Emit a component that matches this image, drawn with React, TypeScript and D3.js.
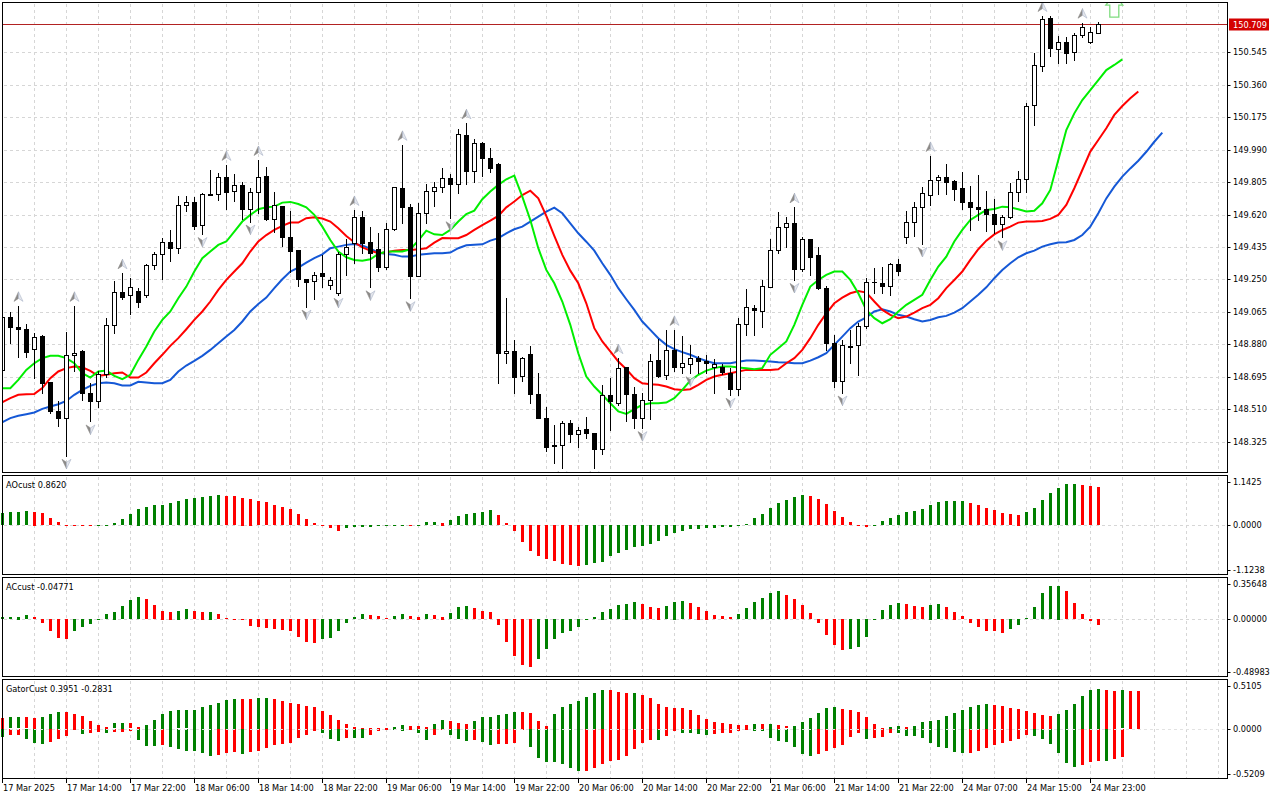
import React from "react";
import * as d3 from "d3";

// H1 candles, 17 Mar 06:00 .. 25 Mar 00:00
const opens = [148.734,149.034,148.977,148.966,148.852,148.928,148.666,148.500,148.459,148.818,
148.839,148.601,148.554,148.711,148.989,149.177,149.162,149.184,149.160,149.331,
149.393,149.462,149.428,149.673,149.692,149.559,149.733,149.735,149.832,149.752,
149.789,149.650,149.747,149.840,149.597,149.669,149.490,149.418,149.251,149.241,
149.285,149.217,149.175,149.395,149.460,149.604,149.462,149.422,149.323,149.536,
149.770,149.661,149.272,149.627,149.756,149.775,149.827,149.792,150.074,149.870,
150.026,149.941,149.908,148.829,148.842,148.700,148.823,148.595,148.459,148.307,
148.305,148.430,148.369,148.396,148.373,148.282,148.592,148.544,148.749,148.595,
148.459,148.563,148.791,148.706,148.848,148.753,148.766,148.804,148.785,148.749,
148.753,148.719,148.624,148.996,149.089,149.067,149.209,149.418,149.551,149.570,
149.308,149.479,149.390,149.200,148.886,148.671,148.871,148.877,148.985,149.238,
149.228,149.215,149.336,149.494,149.576,149.665,149.733,149.815,149.832,149.811,
149.770,149.692,149.663,149.652,149.623,149.564,149.604,149.749,149.825,150.243,
150.467,150.739,150.566,150.602,150.545,150.642,150.602,150.653];

const highs = [149.057,149.063,149.099,148.996,148.943,148.934,148.666,148.554,148.951,149.099,
148.848,148.658,148.725,149.029,149.241,149.285,149.260,149.200,149.336,149.409,
149.488,149.532,149.726,149.726,149.718,149.741,149.874,149.855,149.903,149.851,
149.808,149.770,149.931,149.893,149.747,149.669,149.642,149.418,149.251,149.295,
149.390,149.266,149.405,149.479,149.646,149.642,149.551,149.513,149.570,149.779,
150.017,149.680,149.684,149.794,149.808,149.884,149.851,150.106,150.140,150.049,
150.036,149.998,149.912,149.143,148.905,148.806,148.871,148.715,148.525,148.421,
148.440,148.449,148.411,148.468,148.373,148.649,148.687,148.801,148.749,148.639,
148.601,148.825,148.909,148.962,148.962,148.928,148.877,148.814,148.820,148.795,
148.768,148.744,149.029,149.194,149.105,149.247,149.479,149.637,149.608,149.661,
149.490,149.479,149.437,149.213,148.934,148.905,148.962,149.000,149.260,149.317,
149.323,149.342,149.365,149.642,149.694,149.775,149.954,149.846,149.906,149.817,
149.861,149.783,149.847,149.754,149.709,149.618,149.798,149.866,150.254,150.539,
150.752,150.752,150.638,150.630,150.653,150.714,150.691,150.716];

const lows = [148.725,148.886,148.806,148.806,148.685,148.601,148.487,148.415,148.244,148.730,
148.563,148.440,148.521,148.696,148.947,149.139,149.051,149.095,149.152,149.308,
149.255,149.357,149.399,149.642,149.538,149.509,149.730,149.703,149.650,149.699,
149.595,149.580,149.627,149.589,149.519,149.441,149.295,149.213,149.095,149.141,
149.209,149.194,149.162,149.276,149.342,149.399,149.205,149.300,149.308,149.532,
149.570,149.143,149.270,149.570,149.671,149.751,149.599,149.741,149.794,149.808,
149.842,149.865,148.662,148.772,148.605,148.668,148.548,148.459,148.274,148.202,
148.174,148.325,148.297,148.345,148.174,148.255,148.392,148.535,148.440,148.402,
148.402,148.453,148.692,148.683,148.725,148.719,148.715,148.719,148.719,148.601,
148.709,148.592,148.592,148.934,148.934,148.981,149.205,149.403,149.437,149.247,
149.300,149.276,149.194,148.848,148.635,148.605,148.772,148.706,148.972,149.171,
149.175,149.162,149.276,149.460,149.498,149.452,149.676,149.735,149.735,149.703,
149.652,149.532,149.589,149.528,149.513,149.490,149.599,149.699,149.749,150.132,
150.440,150.524,150.482,150.482,150.501,150.634,150.596,150.653];

const closes = [149.034,148.977,148.966,148.835,148.924,148.662,148.500,148.457,148.820,148.829,
148.601,148.554,148.711,148.989,149.177,149.152,149.207,149.124,149.333,149.393,
149.462,149.428,149.673,149.690,149.557,149.735,149.737,149.832,149.751,149.787,
149.650,149.747,149.836,149.597,149.676,149.490,149.414,149.251,149.236,149.274,
149.270,149.245,149.395,149.437,149.604,149.460,149.399,149.323,149.536,149.775,
149.661,149.272,149.627,149.756,149.775,149.827,149.792,150.077,149.870,150.026,
149.941,149.887,148.829,148.844,148.692,148.801,148.595,148.459,148.297,148.301,
148.430,148.367,148.394,148.373,148.282,148.592,148.554,148.744,148.595,148.459,
148.563,148.782,148.702,148.848,148.753,148.772,148.801,148.785,148.772,148.766,
148.721,148.624,148.996,149.091,149.076,149.213,149.418,149.551,149.570,149.308,
149.479,149.380,149.200,148.886,148.668,148.875,148.863,148.985,149.238,149.234,
149.215,149.338,149.300,149.576,149.661,149.741,149.815,149.832,149.804,149.764,
149.690,149.661,149.650,149.623,149.564,149.604,149.747,149.825,150.237,150.471,
150.733,150.568,150.602,150.539,150.644,150.691,150.659,150.709];

// alligator, as shown (lips +3, teeth +5, jaw +8 bars ahead)
const lips = [148.630,148.630,148.677,148.734,148.772,148.801,148.814,148.814,148.801,148.772,
148.715,148.690,148.725,148.730,148.700,148.681,148.706,148.791,148.867,148.953,
149.019,149.067,149.143,149.209,149.295,149.371,149.409,149.447,149.466,149.523,
149.580,149.618,149.650,149.661,149.665,149.688,149.692,149.680,149.661,149.618,
149.551,149.475,149.409,149.376,149.361,149.357,149.365,149.395,149.409,149.409,
149.409,149.422,149.471,149.528,149.507,149.503,149.532,149.580,149.623,149.642,
149.707,149.751,149.789,149.821,149.842,149.722,149.589,149.428,149.304,149.228,
149.124,148.991,148.829,148.696,148.639,148.592,148.544,148.497,148.483,148.510,
148.535,148.544,148.544,148.548,148.573,148.620,148.673,148.706,148.730,148.744,
148.753,148.753,148.747,148.744,148.738,148.744,148.820,148.858,148.896,148.991,
149.105,149.209,149.247,149.276,149.295,149.295,149.247,149.171,149.076,149.029,
149.000,149.023,149.067,149.105,149.133,149.162,149.247,149.323,149.380,149.466,
149.532,149.589,149.618,149.646,149.652,149.665,149.661,149.650,149.637,149.642,
149.684,149.760,149.931,150.102,150.197,150.273,150.330,150.387,150.444,150.473,
150.505];

const teeth = [148.550,148.573,148.592,148.595,148.597,148.630,148.687,148.725,148.744,148.753,
148.749,148.728,148.700,148.706,148.715,148.719,148.690,148.690,148.719,148.772,
148.820,148.871,148.915,148.966,149.019,149.067,149.124,149.190,149.247,149.295,
149.342,149.409,149.466,149.503,149.532,149.555,149.574,149.574,149.599,149.604,
149.597,149.580,149.542,149.498,149.462,149.433,149.414,149.399,149.403,149.414,
149.418,149.418,149.422,149.428,149.460,149.486,149.485,149.485,149.503,149.532,
149.560,149.585,149.612,149.661,149.694,149.731,149.756,149.713,149.612,149.498,
149.390,149.300,149.228,149.114,148.972,148.896,148.839,148.782,148.738,148.687,
148.658,148.652,148.649,148.639,148.624,148.620,148.624,148.649,148.677,148.696,
148.706,148.715,148.725,148.734,148.734,148.734,148.734,148.738,148.772,148.801,
148.848,148.915,148.991,149.057,149.114,149.146,149.171,149.184,149.175,149.124,
149.076,149.048,149.029,149.038,149.061,149.086,149.105,149.143,149.200,149.247,
149.295,149.361,149.422,149.471,149.507,149.532,149.551,149.574,149.580,149.580,
149.583,149.595,149.618,149.675,149.770,149.874,149.979,150.045,150.112,150.188,
150.239,150.283,150.321];

const jaw = [148.436,148.459,148.472,148.481,148.491,148.512,148.525,148.538,148.557,148.592,
148.620,148.643,148.658,148.662,148.658,148.645,148.645,148.666,148.662,148.658,
148.658,148.677,148.725,148.759,148.785,148.814,148.848,148.886,148.924,148.962,
149.010,149.067,149.110,149.146,149.200,149.251,149.295,149.317,149.346,149.371,
149.393,149.428,149.437,149.447,149.452,149.443,149.426,149.403,149.395,149.390,
149.380,149.380,149.390,149.395,149.399,149.399,149.403,149.428,149.445,149.447,
149.450,149.471,149.485,149.513,149.536,149.551,149.580,149.608,149.637,149.659,
149.627,149.570,149.513,149.465,149.414,149.342,149.276,149.200,149.137,149.076,
149.010,148.962,148.915,148.877,148.852,148.835,148.820,148.801,148.785,148.772,
148.772,148.772,148.780,148.787,148.787,148.785,148.782,148.778,148.776,148.772,
148.772,148.787,148.806,148.829,148.877,148.924,148.972,149.010,149.034,149.067,
149.080,149.067,149.048,149.038,149.023,149.010,149.019,149.034,149.042,149.061,
149.086,149.124,149.162,149.205,149.257,149.304,149.342,149.376,149.399,149.414,
149.437,149.450,149.460,149.462,149.475,149.503,149.551,149.627,149.712,149.779,
149.836,149.883,149.927,149.978,150.035,150.087];

const aoValues = [0.273,0.295,0.303,0.318,0.312,0.273,0.167,0.068,0.012,0.008,
0.004,-0.030,-0.015,0.015,0.045,0.144,0.250,0.379,0.417,0.455,
0.460,0.508,0.553,0.591,0.614,0.644,0.659,0.682,0.667,0.659,
0.629,0.606,0.553,0.523,0.455,0.409,0.371,0.250,0.152,0.045,
0.008,-0.076,-0.129,-0.076,-0.053,-0.050,-0.038,-0.023,-0.015,-0.008,
0.015,0.012,0.018,0.068,0.070,0.061,0.114,0.205,0.250,0.273,
0.295,0.341,0.227,0.045,-0.144,-0.379,-0.583,-0.697,-0.773,-0.811,
-0.879,-0.902,-0.924,-0.902,-0.871,-0.833,-0.697,-0.636,-0.561,-0.508,
-0.470,-0.424,-0.356,-0.258,-0.174,-0.129,-0.098,-0.082,-0.076,-0.068,
-0.055,-0.050,-0.015,0.030,0.159,0.250,0.386,0.500,0.576,0.636,
0.682,0.659,0.591,0.477,0.318,0.182,0.068,-0.020,-0.040,0.020,
0.091,0.159,0.227,0.295,0.318,0.364,0.455,0.523,0.545,0.548,
0.552,0.500,0.455,0.386,0.341,0.273,0.250,0.245,0.295,0.386,
0.568,0.727,0.841,0.932,0.935,0.909,0.886,0.862];

const acValues = [0.016,0.017,0.022,0.033,0.016,-0.030,-0.104,-0.160,-0.169,-0.106,
-0.066,-0.041,-0.004,0.044,0.064,0.112,0.161,0.189,0.172,0.121,
0.073,0.064,0.073,0.087,0.067,0.064,0.065,0.044,0.007,0.002,
-0.012,-0.058,-0.064,-0.075,-0.089,-0.090,-0.098,-0.149,-0.191,-0.203,
-0.174,-0.160,-0.103,-0.030,0.016,0.041,0.036,0.024,0.010,0.024,
0.044,0.024,0.023,0.044,0.036,0.022,0.050,0.101,0.110,0.093,
0.070,0.061,-0.055,-0.191,-0.311,-0.387,-0.410,-0.336,-0.251,-0.174,
-0.123,-0.098,-0.072,-0.012,0.016,0.064,0.087,0.121,0.132,0.146,
0.130,0.104,0.098,0.112,0.149,0.155,0.138,0.107,0.073,0.036,
0.024,0.019,0.044,0.095,0.146,0.181,0.223,0.240,0.206,0.172,
0.121,0.053,-0.030,-0.132,-0.217,-0.262,-0.258,-0.234,-0.149,-0.012,
0.078,0.121,0.138,0.130,0.112,0.104,0.124,0.130,0.104,0.064,
0.027,-0.038,-0.064,-0.098,-0.106,-0.115,-0.089,-0.055,0.010,0.101,
0.223,0.283,0.285,0.240,0.138,0.044,-0.018,-0.04771];

const gatorUp = [0.114,0.116,0.118,0.116,0.114,0.124,0.155,0.176,0.174,0.155,
0.134,0.083,0.041,0.017,0.055,0.062,0.055,0.021,0.041,0.093,
0.155,0.186,0.188,0.190,0.197,0.228,0.248,0.269,0.300,0.310,
0.308,0.306,0.321,0.322,0.310,0.290,0.269,0.259,0.238,0.228,
0.186,0.145,0.093,0.045,0.021,0.010,0.005,0.003,0.002,0.021,
0.041,0.031,0.030,0.021,0.052,0.093,0.083,0.062,0.052,0.083,
0.124,0.125,0.145,0.155,0.176,0.174,0.162,0.083,0.031,0.155,
0.228,0.259,0.290,0.331,0.372,0.403,0.402,0.383,0.372,0.373,
0.352,0.321,0.259,0.228,0.217,0.214,0.197,0.145,0.103,0.072,
0.062,0.052,0.041,0.040,0.052,0.050,0.052,0.041,0.025,0.031,
0.072,0.114,0.166,0.217,0.228,0.207,0.197,0.176,0.124,0.052,
0.007,0.017,0.031,0.017,0.031,0.072,0.083,0.093,0.134,0.166,
0.197,0.228,0.248,0.255,0.248,0.238,0.217,0.207,0.186,0.166,
0.145,0.134,0.155,0.197,0.259,0.341,0.403,0.414,0.403,0.393,
0.396,0.393,0.390];

const gatorDown = [-0.079,-0.059,-0.057,-0.103,-0.141,-0.152,-0.134,-0.103,-0.069,-0.010,
-0.048,-0.046,-0.028,-0.038,-0.031,-0.027,-0.024,-0.114,-0.172,-0.174,
-0.162,-0.183,-0.203,-0.224,-0.226,-0.245,-0.276,-0.274,-0.245,-0.243,
-0.255,-0.234,-0.224,-0.193,-0.162,-0.152,-0.141,-0.097,-0.059,-0.017,
-0.038,-0.100,-0.121,-0.090,-0.092,-0.094,-0.059,-0.020,-0.008,-0.012,
-0.017,-0.010,-0.045,-0.110,-0.059,-0.003,-0.059,-0.100,-0.121,-0.110,
-0.131,-0.162,-0.160,-0.152,-0.141,-0.002,-0.183,-0.297,-0.338,-0.339,
-0.359,-0.400,-0.431,-0.430,-0.400,-0.359,-0.328,-0.317,-0.276,-0.203,
-0.141,-0.110,-0.112,-0.069,-0.020,-0.038,-0.045,-0.048,-0.059,-0.048,
-0.046,-0.038,-0.017,-0.010,-0.017,-0.019,-0.090,-0.121,-0.131,-0.183,
-0.255,-0.276,-0.255,-0.224,-0.197,-0.166,-0.079,-0.038,-0.103,-0.093,
-0.079,-0.038,-0.040,-0.069,-0.070,-0.093,-0.145,-0.186,-0.197,-0.238,
-0.248,-0.247,-0.228,-0.197,-0.166,-0.145,-0.124,-0.103,-0.062,-0.069,
-0.103,-0.155,-0.248,-0.352,-0.393,-0.372,-0.341,-0.331,-0.334,-0.310,
-0.290];

const fractalUp = [2, 9, 15, 28, 32, 44, 50, 58, 77, 84, 99, 116, 130, 135];
const fractalDown = [8, 11, 25, 31, 38, 42, 46, 51, 56, 70, 74, 80, 86, 91, 99, 105, 115, 125];

const timeLabels = ["17 Mar 2025", "17 Mar 14:00", "17 Mar 22:00", "18 Mar 06:00", "18 Mar 14:00",
  "18 Mar 22:00", "19 Mar 06:00", "19 Mar 14:00", "19 Mar 22:00", "20 Mar 06:00", "20 Mar 14:00",
  "20 Mar 22:00", "21 Mar 06:00", "21 Mar 14:00", "21 Mar 22:00", "24 Mar 07:00", "24 Mar 15:00",
  "24 Mar 23:00"];
const timeLabelStep = 8;

const priceTicks = [148.325, 148.510, 148.695, 148.880, 149.065, 149.250, 149.435, 149.620,
  149.805, 149.990, 150.175, 150.360, 150.545];
const lastPrice = 150.709;
const signalBar = 139;
const signalPrice = 150.78;

const aoTicks = [1.1425, 0, -1.1238];
const aoTickText = ["1.1425", "0.0000", "-1.1238"];
const acTicks = [0.35648, 0, -0.48983];
const acTickText = ["0.35648", "0.00000", "-0.48983"];
const gatorTicks = [0.5105, 0, -0.5209];
const gatorTickText = ["0.5105", "0.0000", "-0.5209"];

const GREEN = "#008000";
const RED = "#ff0000";
const GRID = "#d6d6d6";
const FONT = "DejaVu Sans, Verdana, sans-serif";
const FS = 8.2;
const LEFT = 2.5;
const RIGHT = 1227.5;

const x = d3.scaleLinear().domain([0, closes.length - 1]).range([2.3, 1098.3]);
const px = (i: number) => Math.round(x(i));

const yMain = d3.scaleLinear().domain([148.146, 150.832]).range([473, 2]);
const yAO = d3.scaleLinear().domain([-1.1238, 1.1425]).range([575, 475]);
const yAC = d3.scaleLinear().domain([-0.48983, 0.35648]).range([677, 577.3]);
const yGator = d3.scaleLinear().domain([-0.5209, 0.5105]).range([779, 679.3]);

const panels = [
  { top: 2.5, bottom: 472.5 },
  { top: 475.5, bottom: 574.5 },
  { top: 577.5, bottom: 676.5 },
  { top: 679.5, bottom: 778.5 },
];

const gridBars = d3.range(4, 153, 4);

function Histogram({ values, scale, byMagnitude, firstRising }: any) {
  const y0 = scale(0);
  return (
    <g shapeRendering="crispEdges">
      {values.map((v: number, i: number) => {
        const rising = i === 0 ? firstRising
          : byMagnitude ? Math.abs(v) > Math.abs(values[i - 1]) : v > values[i - 1];
        const yv = scale(v);
        const top = Math.round(Math.min(y0, yv));
        const h = Math.max(1, Math.round(Math.abs(yv - y0)));
        return <rect key={i} x={px(i) - 1} y={top} width={3} height={h} fill={rising ? GREEN : RED} />;
      })}
    </g>
  );
}

function Fractal({ i, up }: { i: number; up: boolean }) {
  const cx = px(i) + 0.5;
  const cy = up ? yMain(highs[i]) - 9 : yMain(lows[i]) + 8;
  const s = up ? 1 : -1;
  const tip = [cx, cy - 5 * s];
  const notch = [cx, cy + 1.5 * s];
  const l = [cx - 4.5, cy + 4.5 * s];
  const r = [cx + 4.5, cy + 4.5 * s];
  const pts = (a: number[][]) => a.map(p => p.join(",")).join(" ");
  return (
    <g>
      <polygon points={pts([tip, notch, l])} fill="#8c8a88" stroke="#8c8a88" strokeWidth={0.6} />
      <polygon points={pts([tip, r, notch])} fill="#e4e6ec" stroke="#a9b3c8" strokeWidth={0.6} />
    </g>
  );
}

function AxisLabels({ ticks, texts, scale, top, bottom }: any) {
  return (
    <g>
      {ticks.map((t: number, k: number) => {
        const yy = Math.min(Math.max(scale(t), top + 6), bottom - 5);
        return (
          <g key={k}>
            <line x1={RIGHT} x2={RIGHT + 3} y1={Math.round(yy) + 0.5} y2={Math.round(yy) + 0.5} stroke="#000" />
            <text x={1233} y={yy} fontSize={FS} fontFamily={FONT} dominantBaseline="central">{texts[k]}</text>
          </g>
        );
      })}
    </g>
  );
}

const App: React.FC = () => {
  const lineGen = d3.line<number>().x((_, i) => x(i)).y(v => yMain(v));
  const yLast = Math.round(yMain(lastPrice)) + 0.5;
  const sx = x(signalBar);
  const sy = yMain(signalPrice);
  const arrowPts = [
    [sx, sy - 17], [sx + 8.5, sy - 6], [sx + 4.5, sy - 6], [sx + 4.5, sy + 6],
    [sx - 4.5, sy + 6], [sx - 4.5, sy - 6], [sx - 8.5, sy - 6],
  ].map(p => p.join(",")).join(" ");

  return (
    <div style={{ position: "absolute", left: 0, top: 0, width: 1280, height: 800, background: "#fff" }}>
      <svg width={1280} height={800} style={{ display: "block" }}>
        <defs>
          <clipPath id="mainClip"><rect x={3} y={3} width={1224} height={469} /></clipPath>
        </defs>
        <rect x={0} y={0} width={1280} height={800} fill="#fff" />

        {/* grid */}
        <g stroke={GRID} strokeDasharray="3,3" shapeRendering="crispEdges">
          {panels.map((p, k) => gridBars.map(b => (
            <line key={`v${k}-${b}`} x1={px(b) + 0.5} x2={px(b) + 0.5} y1={p.top + 1} y2={p.bottom - 1} />
          )))}
          {priceTicks.map(t => (
            <line key={`h${t}`} x1={LEFT + 1} x2={RIGHT - 1} y1={Math.round(yMain(t)) + 0.5} y2={Math.round(yMain(t)) + 0.5} />
          ))}
          <line x1={LEFT + 1} x2={RIGHT - 1} y1={Math.round(yAO(0)) + 0.5} y2={Math.round(yAO(0)) + 0.5} />
          <line x1={LEFT + 1} x2={RIGHT - 1} y1={Math.round(yAC(0)) + 0.5} y2={Math.round(yAC(0)) + 0.5} />
        </g>

        {/* main panel */}
        <g clipPath="url(#mainClip)">
          <line x1={LEFT} x2={RIGHT} y1={yLast} y2={yLast} stroke="#b22222" strokeWidth={1} shapeRendering="crispEdges" />
          <path d={lineGen(jaw) || ""} fill="none" stroke="#1558d6" strokeWidth={2} />
          <path d={lineGen(teeth) || ""} fill="none" stroke="#ff0000" strokeWidth={2} />
          <path d={lineGen(lips) || ""} fill="none" stroke="#00ee00" strokeWidth={2} />
          <g shapeRendering="crispEdges">
            {closes.map((c, i) => {
              const n = px(i);
              const o = opens[i];
              const yTop = Math.round(yMain(Math.max(o, c)));
              const yBot = Math.round(yMain(Math.min(o, c)));
              const bull = c >= o;
              return (
                <g key={i}>
                  <line x1={n + 0.5} x2={n + 0.5} y1={Math.round(yMain(highs[i]))} y2={Math.round(yMain(lows[i])) + 1} stroke="#000" />
                  {yBot - yTop >= 1 ? (
                    <rect x={n - 1.5} y={yTop + 0.5} width={4} height={yBot - yTop} fill={bull ? "#fff" : "#000"} stroke="#000" />
                  ) : (
                    <line x1={n - 2} x2={n + 3} y1={yTop + 0.5} y2={yTop + 0.5} stroke="#000" />
                  )}
                </g>
              );
            })}
          </g>
          {fractalUp.map(i => <Fractal key={`u${i}`} i={i} up={true} />)}
          {fractalDown.map(i => <Fractal key={`d${i}`} i={i} up={false} />)}
          <polygon points={arrowPts} fill="#fff" stroke="#7fdc7f" strokeWidth={1.3} />
        </g>

        {/* sub panels */}
        <Histogram values={aoValues} scale={yAO} byMagnitude={false} firstRising={true} />
        <Histogram values={acValues} scale={yAC} byMagnitude={false} firstRising={true} />
        <Histogram values={gatorUp} scale={yGator} byMagnitude={true} firstRising={false} />
        <Histogram values={gatorDown} scale={yGator} byMagnitude={true} firstRising={true} />
        <line x1={LEFT + 1} x2={RIGHT - 1} y1={Math.round(yGator(0)) + 0.5} y2={Math.round(yGator(0)) + 0.5}
          stroke="#e2e2e2" strokeDasharray="3,3" shapeRendering="crispEdges" />

        {/* frames */}
        <g fill="none" stroke="#000" shapeRendering="crispEdges">
          {panels.map((p, k) => (
            <rect key={k} x={LEFT} y={p.top} width={RIGHT - LEFT} height={p.bottom - p.top} />
          ))}
        </g>

        {/* price axis */}
        {priceTicks.map(t => {
          const yy = yMain(t);
          return (
            <g key={t}>
              <line x1={RIGHT} x2={RIGHT + 3} y1={Math.round(yy) + 0.5} y2={Math.round(yy) + 0.5} stroke="#000" />
              <text x={1233} y={yy} fontSize={FS} fontFamily={FONT} dominantBaseline="central">{t.toFixed(3)}</text>
            </g>
          );
        })}
        <rect x={1229} y={yLast - 6} width={40} height={12} fill="#d40000" />
        <text x={1233} y={yLast} fontSize={FS} fontFamily={FONT} fill="#fff" dominantBaseline="central">{lastPrice.toFixed(3)}</text>

        <AxisLabels ticks={aoTicks} texts={aoTickText} scale={yAO} top={panels[1].top} bottom={panels[1].bottom} />
        <AxisLabels ticks={acTicks} texts={acTickText} scale={yAC} top={panels[2].top} bottom={panels[2].bottom} />
        <AxisLabels ticks={gatorTicks} texts={gatorTickText} scale={yGator} top={panels[3].top} bottom={panels[3].bottom} />

        {/* panel titles */}
        <g fontSize={FS} fontFamily={FONT}>
          <text x={6} y={484.5} dominantBaseline="central">AOcust {aoValues[aoValues.length - 1].toFixed(4)}</text>
          <text x={6} y={586.5} dominantBaseline="central">ACcust {acValues[acValues.length - 1].toFixed(5)}</text>
          <text x={6} y={688.5} dominantBaseline="central">GatorCust 0.3951 -0.2831</text>
        </g>

        {/* time axis */}
        {timeLabels.map((label, k) => {
          const n = px(k * timeLabelStep);
          return (
            <g key={label}>
              <line x1={n + 0.5} x2={n + 0.5} y1={779} y2={783} stroke="#000" shapeRendering="crispEdges" />
              <text x={n + 1} y={788} fontSize={FS} fontFamily={FONT} dominantBaseline="central">{label}</text>
            </g>
          );
        })}
      </svg>
    </div>
  );
};

export default App;
